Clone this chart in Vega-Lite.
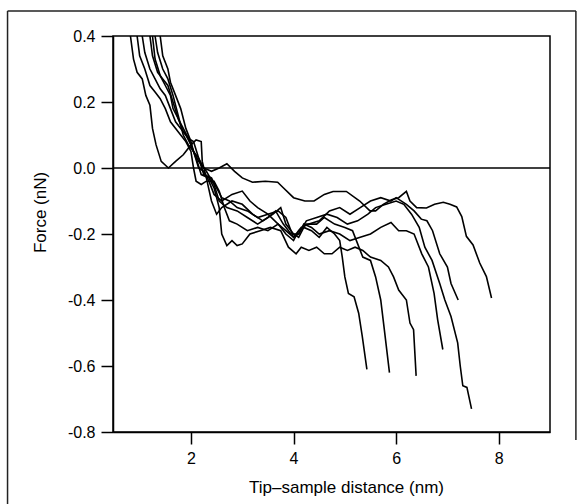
{
  "$schema": "https://vega.github.io/schema/vega-lite/v6.json",
  "autosize": "none",
  "width": 437,
  "height": 396,
  "padding": {"left": 113, "top": 36, "right": 34, "bottom": 72},
  "background": "white",
  "config": {
    "view": {"stroke": "black", "strokeWidth": 1.5},
    "font": "Liberation Sans",
    "axis": {
      "grid": false,
      "domainColor": "black",
      "domainWidth": 1.5,
      "tickColor": "black",
      "tickWidth": 1.5,
      "tickSize": 12,
      "labelColor": "black",
      "labelFontSize": 16,
      "labelFont": "Liberation Sans",
      "labelPadding": 6,
      "titleColor": "black",
      "titleFont": "Liberation Sans",
      "titleFontSize": 17,
      "titleFontWeight": "normal",
      "titleBaseline": "middle",
      "titleAlign": "center"
    }
  },
  "datasets": {
    "curves": [
      {"c":"1","x":0.82,"y":0.40},{"c":"1","x":0.88,"y":0.33},{"c":"1","x":0.95,"y":0.29},{"c":"1","x":1.05,"y":0.27},{"c":"1","x":1.12,"y":0.22},{"c":"1","x":1.2,"y":0.19},{"c":"1","x":1.25,"y":0.12},{"c":"1","x":1.32,"y":0.07},{"c":"1","x":1.42,"y":0.02},{"c":"1","x":1.56,"y":0.0},{"c":"1","x":1.7,"y":0.02},{"c":"1","x":1.85,"y":0.04},{"c":"1","x":2.0,"y":0.07},{"c":"1","x":2.1,"y":0.085},{"c":"1","x":2.2,"y":0.08},{"c":"1","x":2.22,"y":0.02},{"c":"1","x":2.3,"y":-0.03},{"c":"1","x":2.4,"y":-0.1},{"c":"1","x":2.5,"y":-0.14},{"c":"1","x":2.6,"y":-0.12},{"c":"1","x":2.8,"y":-0.1},{"c":"1","x":3.0,"y":-0.11},{"c":"1","x":3.2,"y":-0.14},{"c":"1","x":3.4,"y":-0.16},{"c":"1","x":3.6,"y":-0.14},{"c":"1","x":3.75,"y":-0.12},{"c":"1","x":3.85,"y":-0.17},{"c":"1","x":4.0,"y":-0.2},{"c":"1","x":4.1,"y":-0.21},{"c":"1","x":4.2,"y":-0.18},{"c":"1","x":4.35,"y":-0.19},{"c":"1","x":4.5,"y":-0.21},{"c":"1","x":4.65,"y":-0.18},{"c":"1","x":4.8,"y":-0.2},{"c":"1","x":4.9,"y":-0.22},{"c":"1","x":4.95,"y":-0.27},{"c":"1","x":5.0,"y":-0.33},{"c":"1","x":5.07,"y":-0.38},{"c":"1","x":5.18,"y":-0.39},{"c":"1","x":5.27,"y":-0.44},{"c":"1","x":5.34,"y":-0.51},{"c":"1","x":5.43,"y":-0.61},
      {"c":"2","x":0.95,"y":0.40},{"c":"2","x":1.0,"y":0.34},{"c":"2","x":1.1,"y":0.3},{"c":"2","x":1.2,"y":0.25},{"c":"2","x":1.3,"y":0.23},{"c":"2","x":1.4,"y":0.21},{"c":"2","x":1.5,"y":0.18},{"c":"2","x":1.6,"y":0.14},{"c":"2","x":1.75,"y":0.11},{"c":"2","x":1.9,"y":0.08},{"c":"2","x":2.0,"y":0.05},{"c":"2","x":2.05,"y":0.0},{"c":"2","x":2.1,"y":-0.04},{"c":"2","x":2.2,"y":-0.05},{"c":"2","x":2.3,"y":-0.04},{"c":"2","x":2.45,"y":-0.04},{"c":"2","x":2.55,"y":-0.07},{"c":"2","x":2.65,"y":-0.12},{"c":"2","x":2.75,"y":-0.16},{"c":"2","x":2.9,"y":-0.17},{"c":"2","x":3.1,"y":-0.19},{"c":"2","x":3.3,"y":-0.18},{"c":"2","x":3.5,"y":-0.19},{"c":"2","x":3.7,"y":-0.17},{"c":"2","x":3.85,"y":-0.2},{"c":"2","x":4.0,"y":-0.22},{"c":"2","x":4.1,"y":-0.19},{"c":"2","x":4.25,"y":-0.17},{"c":"2","x":4.45,"y":-0.17},{"c":"2","x":4.6,"y":-0.15},{"c":"2","x":4.8,"y":-0.17},{"c":"2","x":5.0,"y":-0.18},{"c":"2","x":5.15,"y":-0.19},{"c":"2","x":5.25,"y":-0.23},{"c":"2","x":5.35,"y":-0.27},{"c":"2","x":5.5,"y":-0.28},{"c":"2","x":5.6,"y":-0.33},{"c":"2","x":5.7,"y":-0.4},{"c":"2","x":5.77,"y":-0.49},{"c":"2","x":5.87,"y":-0.62},
      {"c":"3","x":1.05,"y":0.40},{"c":"3","x":1.1,"y":0.35},{"c":"3","x":1.2,"y":0.3},{"c":"3","x":1.3,"y":0.27},{"c":"3","x":1.4,"y":0.24},{"c":"3","x":1.5,"y":0.22},{"c":"3","x":1.6,"y":0.18},{"c":"3","x":1.7,"y":0.14},{"c":"3","x":1.8,"y":0.12},{"c":"3","x":1.9,"y":0.1},{"c":"3","x":2.0,"y":0.07},{"c":"3","x":2.1,"y":0.03},{"c":"3","x":2.2,"y":-0.02},{"c":"3","x":2.35,"y":-0.03},{"c":"3","x":2.45,"y":-0.06},{"c":"3","x":2.55,"y":-0.12},{"c":"3","x":2.6,"y":-0.2},{"c":"3","x":2.7,"y":-0.235},{"c":"3","x":2.8,"y":-0.22},{"c":"3","x":2.9,"y":-0.235},{"c":"3","x":3.0,"y":-0.23},{"c":"3","x":3.15,"y":-0.2},{"c":"3","x":3.35,"y":-0.19},{"c":"3","x":3.55,"y":-0.18},{"c":"3","x":3.75,"y":-0.19},{"c":"3","x":3.9,"y":-0.24},{"c":"3","x":4.05,"y":-0.26},{"c":"3","x":4.15,"y":-0.24},{"c":"3","x":4.3,"y":-0.25},{"c":"3","x":4.45,"y":-0.24},{"c":"3","x":4.6,"y":-0.26},{"c":"3","x":4.75,"y":-0.26},{"c":"3","x":4.9,"y":-0.24},{"c":"3","x":5.05,"y":-0.25},{"c":"3","x":5.2,"y":-0.24},{"c":"3","x":5.35,"y":-0.25},{"c":"3","x":5.5,"y":-0.27},{"c":"3","x":5.7,"y":-0.28},{"c":"3","x":5.85,"y":-0.3},{"c":"3","x":5.95,"y":-0.33},{"c":"3","x":6.05,"y":-0.37},{"c":"3","x":6.2,"y":-0.4},{"c":"3","x":6.27,"y":-0.47},{"c":"3","x":6.34,"y":-0.49},{"c":"3","x":6.39,"y":-0.63},
      {"c":"4","x":1.2,"y":0.40},{"c":"4","x":1.25,"y":0.34},{"c":"4","x":1.35,"y":0.29},{"c":"4","x":1.45,"y":0.27},{"c":"4","x":1.55,"y":0.25},{"c":"4","x":1.65,"y":0.2},{"c":"4","x":1.75,"y":0.15},{"c":"4","x":1.85,"y":0.12},{"c":"4","x":1.95,"y":0.09},{"c":"4","x":2.05,"y":0.05},{"c":"4","x":2.15,"y":0.02},{"c":"4","x":2.3,"y":-0.01},{"c":"4","x":2.45,"y":-0.05},{"c":"4","x":2.55,"y":-0.1},{"c":"4","x":2.7,"y":-0.12},{"c":"4","x":2.9,"y":-0.13},{"c":"4","x":3.1,"y":-0.15},{"c":"4","x":3.3,"y":-0.17},{"c":"4","x":3.5,"y":-0.15},{"c":"4","x":3.65,"y":-0.13},{"c":"4","x":3.8,"y":-0.17},{"c":"4","x":3.95,"y":-0.2},{"c":"4","x":4.1,"y":-0.2},{"c":"4","x":4.2,"y":-0.17},{"c":"4","x":4.35,"y":-0.18},{"c":"4","x":4.5,"y":-0.2},{"c":"4","x":4.7,"y":-0.19},{"c":"4","x":4.9,"y":-0.2},{"c":"4","x":5.1,"y":-0.22},{"c":"4","x":5.3,"y":-0.21},{"c":"4","x":5.5,"y":-0.2},{"c":"4","x":5.7,"y":-0.18},{"c":"4","x":5.9,"y":-0.165},{"c":"4","x":6.05,"y":-0.19},{"c":"4","x":6.2,"y":-0.19},{"c":"4","x":6.35,"y":-0.2},{"c":"4","x":6.5,"y":-0.26},{"c":"4","x":6.63,"y":-0.3},{"c":"4","x":6.74,"y":-0.38},{"c":"4","x":6.81,"y":-0.46},{"c":"4","x":6.91,"y":-0.55},
      {"c":"5","x":1.25,"y":0.40},{"c":"5","x":1.3,"y":0.33},{"c":"5","x":1.4,"y":0.28},{"c":"5","x":1.5,"y":0.25},{"c":"5","x":1.6,"y":0.22},{"c":"5","x":1.65,"y":0.18},{"c":"5","x":1.75,"y":0.15},{"c":"5","x":1.85,"y":0.11},{"c":"5","x":1.95,"y":0.09},{"c":"5","x":2.05,"y":0.08},{"c":"5","x":2.15,"y":0.03},{"c":"5","x":2.25,"y":-0.02},{"c":"5","x":2.4,"y":-0.03},{"c":"5","x":2.5,"y":-0.06},{"c":"5","x":2.6,"y":-0.09},{"c":"5","x":2.75,"y":-0.1},{"c":"5","x":2.9,"y":-0.12},{"c":"5","x":3.1,"y":-0.13},{"c":"5","x":3.3,"y":-0.15},{"c":"5","x":3.5,"y":-0.14},{"c":"5","x":3.7,"y":-0.13},{"c":"5","x":3.85,"y":-0.15},{"c":"5","x":4.0,"y":-0.21},{"c":"5","x":4.1,"y":-0.2},{"c":"5","x":4.25,"y":-0.16},{"c":"5","x":4.45,"y":-0.15},{"c":"5","x":4.65,"y":-0.14},{"c":"5","x":4.85,"y":-0.15},{"c":"5","x":5.05,"y":-0.17},{"c":"5","x":5.25,"y":-0.16},{"c":"5","x":5.45,"y":-0.14},{"c":"5","x":5.6,"y":-0.12},{"c":"5","x":5.8,"y":-0.11},{"c":"5","x":6.0,"y":-0.1},{"c":"5","x":6.15,"y":-0.11},{"c":"5","x":6.3,"y":-0.14},{"c":"5","x":6.45,"y":-0.18},{"c":"5","x":6.56,"y":-0.24},{"c":"5","x":6.7,"y":-0.28},{"c":"5","x":6.85,"y":-0.35},{"c":"5","x":6.95,"y":-0.4},{"c":"5","x":7.07,"y":-0.45},{"c":"5","x":7.2,"y":-0.53},{"c":"5","x":7.25,"y":-0.6},{"c":"5","x":7.3,"y":-0.66},{"c":"5","x":7.38,"y":-0.665},{"c":"5","x":7.47,"y":-0.73},
      {"c":"6","x":1.3,"y":0.40},{"c":"6","x":1.35,"y":0.35},{"c":"6","x":1.45,"y":0.3},{"c":"6","x":1.55,"y":0.27},{"c":"6","x":1.65,"y":0.22},{"c":"6","x":1.75,"y":0.16},{"c":"6","x":1.85,"y":0.1},{"c":"6","x":1.95,"y":0.07},{"c":"6","x":2.05,"y":0.05},{"c":"6","x":2.15,"y":0.0},{"c":"6","x":2.25,"y":-0.01},{"c":"6","x":2.35,"y":-0.04},{"c":"6","x":2.45,"y":-0.08},{"c":"6","x":2.6,"y":-0.1},{"c":"6","x":2.8,"y":-0.08},{"c":"6","x":3.0,"y":-0.07},{"c":"6","x":3.15,"y":-0.1},{"c":"6","x":3.3,"y":-0.12},{"c":"6","x":3.5,"y":-0.14},{"c":"6","x":3.7,"y":-0.17},{"c":"6","x":3.85,"y":-0.19},{"c":"6","x":4.0,"y":-0.21},{"c":"6","x":4.15,"y":-0.18},{"c":"6","x":4.3,"y":-0.17},{"c":"6","x":4.5,"y":-0.16},{"c":"6","x":4.7,"y":-0.13},{"c":"6","x":4.9,"y":-0.12},{"c":"6","x":5.1,"y":-0.14},{"c":"6","x":5.3,"y":-0.12},{"c":"6","x":5.5,"y":-0.1},{"c":"6","x":5.7,"y":-0.09},{"c":"6","x":5.9,"y":-0.1},{"c":"6","x":6.0,"y":-0.09},{"c":"6","x":6.2,"y":-0.11},{"c":"6","x":6.35,"y":-0.13},{"c":"6","x":6.49,"y":-0.155},{"c":"6","x":6.6,"y":-0.16},{"c":"6","x":6.71,"y":-0.19},{"c":"6","x":6.85,"y":-0.26},{"c":"6","x":7.0,"y":-0.3},{"c":"6","x":7.07,"y":-0.35},{"c":"6","x":7.21,"y":-0.40},
      {"c":"7","x":1.4,"y":0.40},{"c":"7","x":1.45,"y":0.34},{"c":"7","x":1.55,"y":0.3},{"c":"7","x":1.6,"y":0.26},{"c":"7","x":1.7,"y":0.22},{"c":"7","x":1.8,"y":0.18},{"c":"7","x":1.9,"y":0.12},{"c":"7","x":2.0,"y":0.08},{"c":"7","x":2.05,"y":0.05},{"c":"7","x":2.15,"y":0.03},{"c":"7","x":2.25,"y":0.0},{"c":"7","x":2.4,"y":-0.01},{"c":"7","x":2.55,"y":0.0},{"c":"7","x":2.7,"y":0.013},{"c":"7","x":2.85,"y":-0.01},{"c":"7","x":3.0,"y":-0.03},{"c":"7","x":3.2,"y":-0.043},{"c":"7","x":3.45,"y":-0.04},{"c":"7","x":3.69,"y":-0.043},{"c":"7","x":3.8,"y":-0.06},{"c":"7","x":4.0,"y":-0.09},{"c":"7","x":4.22,"y":-0.1},{"c":"7","x":4.4,"y":-0.1},{"c":"7","x":4.6,"y":-0.08},{"c":"7","x":4.77,"y":-0.071},{"c":"7","x":5.03,"y":-0.071},{"c":"7","x":5.29,"y":-0.1},{"c":"7","x":5.49,"y":-0.13},{"c":"7","x":5.6,"y":-0.13},{"c":"7","x":5.75,"y":-0.11},{"c":"7","x":5.91,"y":-0.096},{"c":"7","x":6.05,"y":-0.09},{"c":"7","x":6.2,"y":-0.071},{"c":"7","x":6.27,"y":-0.1},{"c":"7","x":6.4,"y":-0.12},{"c":"7","x":6.59,"y":-0.121},{"c":"7","x":6.75,"y":-0.11},{"c":"7","x":6.92,"y":-0.104},{"c":"7","x":7.05,"y":-0.11},{"c":"7","x":7.18,"y":-0.118},{"c":"7","x":7.28,"y":-0.147},{"c":"7","x":7.37,"y":-0.207},{"c":"7","x":7.5,"y":-0.233},{"c":"7","x":7.63,"y":-0.288},{"c":"7","x":7.76,"y":-0.329},{"c":"7","x":7.86,"y":-0.394}
    ],
    "zero": [{"y": 0}],
    "frame": [
      {"x": -1.576, "x2": 9.505, "y": 0.476, "y2": 0.476},
      {"x": -1.576, "x2": -1.576, "y": 0.476, "y2": -1.5},
      {"x": 9.505, "x2": 9.505, "y": 0.476, "y2": -0.824}
    ]
  },
  "layer": [
    {
      "data": {"name": "frame"},
      "mark": {"type": "rule", "clip": false, "color": "#222", "strokeWidth": 1.5},
      "encoding": {
        "x": {"field": "x", "type": "quantitative"},
        "x2": {"field": "x2"},
        "y": {"field": "y", "type": "quantitative"},
        "y2": {"field": "y2"}
      }
    },
    {
      "data": {"name": "zero"},
      "mark": {"type": "rule", "color": "black", "strokeWidth": 1.5},
      "encoding": {
        "y": {"field": "y", "type": "quantitative"}
      }
    },
    {
      "data": {"name": "curves"},
      "mark": {"type": "line", "clip": true, "color": "black", "strokeWidth": 1.6, "strokeJoin": "miter"},
      "encoding": {
        "x": {
          "field": "x", "type": "quantitative",
          "scale": {"domain": [0.48, 9.0], "nice": false, "zero": false},
          "axis": {"values": [2, 4, 6, 8], "title": "Tip–sample distance (nm)", "titleX": 233, "titleY": 55}
        },
        "y": {
          "field": "y", "type": "quantitative",
          "scale": {"domain": [-0.8, 0.4], "nice": false, "zero": false},
          "axis": {"values": [-0.8, -0.6, -0.4, -0.2, 0, 0.2, 0.4], "labelExpr": "datum.value < 0 ? '-' + format(-datum.value, '.1f') : format(datum.value, '.1f')", "title": "Force (nN)", "titleX": -73, "titleY": 176}
        },
        "detail": {"field": "c", "type": "nominal"}
      }
    }
  ]
}
